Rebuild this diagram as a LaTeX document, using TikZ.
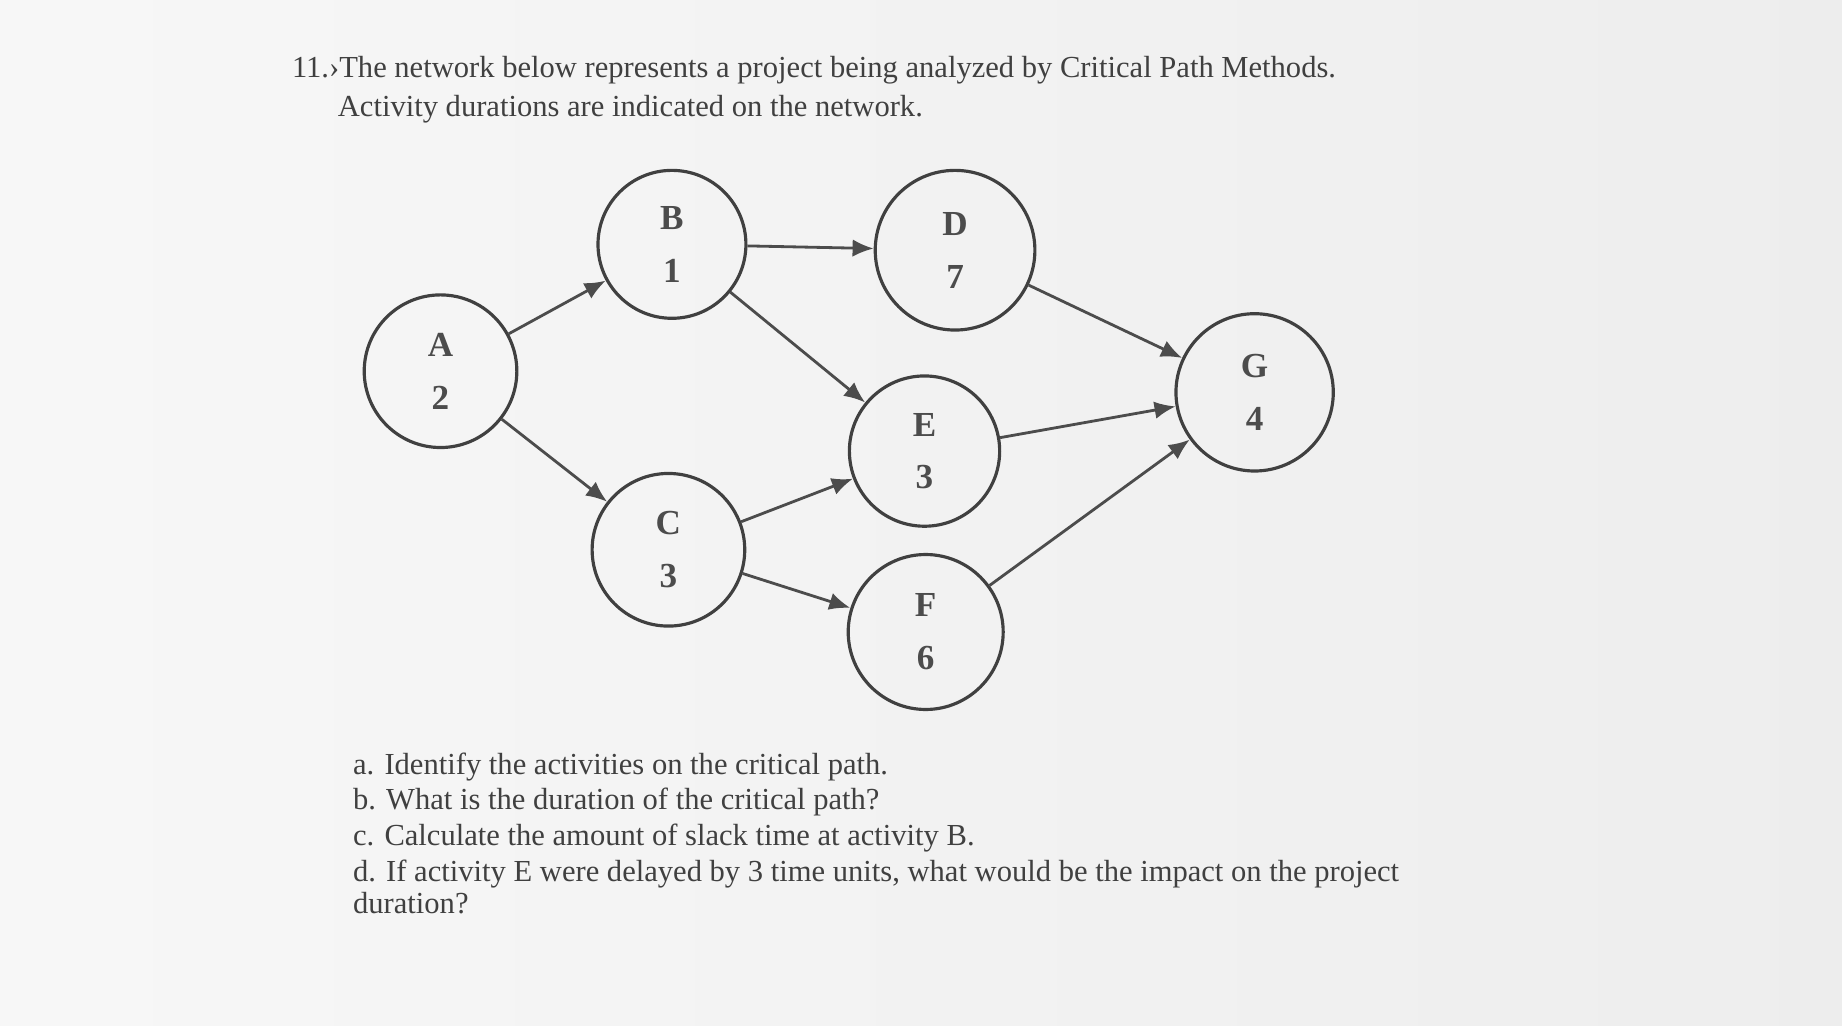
\documentclass[tikz,border=0pt]{standalone}
\usepackage{fontspec}
\setmainfont{Liberation Serif}
\usetikzlibrary{arrows.meta}
\begin{document}
\begin{tikzpicture}[x=0.011747cm,y=-0.011747cm,
  act/.style={draw=black!75,line width=0.9pt,circle,minimum size=#1*0.02349cm,align=center,font=\fontsize{10}{15}\selectfont\bfseries,text=black!70},
  arr/.style={draw=black!70,line width=0.8pt,-{Latex[length=6pt,width=5pt]}},
  txt/.style={anchor=west,font=\fontsize{8.7}{11}\selectfont,text=black!75,inner sep=0}]
\fill[left color=gray!6,right color=gray!14] (0,0) rectangle (1568,873);
\useasboundingbox (0,0) rectangle (1568,873);
\node[act=65] (A) at (375,316) {A\\2};
\node[act=63] (B) at (572,208) {B\\1};
\node[act=68] (D) at (813,213) {D\\7};
\node[act=64] (E) at (787,384) {E\\3};
\node[act=65] (C) at (569,468) {C\\3};
\node[act=66] (F) at (788,538) {F\\6};
\node[act=67] (G) at (1068,334) {G\\4};
\draw[arr] (A) -- (B);
\draw[arr] (A) -- (C);
\draw[arr] (B) -- (D);
\draw[arr] (B) -- (E);
\draw[arr] (C) -- (E);
\draw[arr] (C) -- (F);
\draw[arr] (D) -- (G);
\draw[arr] (E) -- (G);
\draw[arr] (F) -- (G);
\node[txt] (t1) at (248,60) {11.›The network below represents a project being analyzed by Critical Path Methods.};
\node[txt] (t2) at (287,93) {Activity durations are indicated on the network.};
\node[txt] (qa) at (300,653) {a. Identify the activities on the critical path.};
\node[txt] (qb) at (300,683) {b. What is the duration of the critical path?};
\node[txt] (qc) at (300,713) {c. Calculate the amount of slack time at activity B.};
\node[txt] (qd) at (300,744) {d. If activity E were delayed by 3 time units, what would be the impact on the project};
\node[txt] (qe) at (300,769) {duration?};
\end{tikzpicture}
\end{document}
